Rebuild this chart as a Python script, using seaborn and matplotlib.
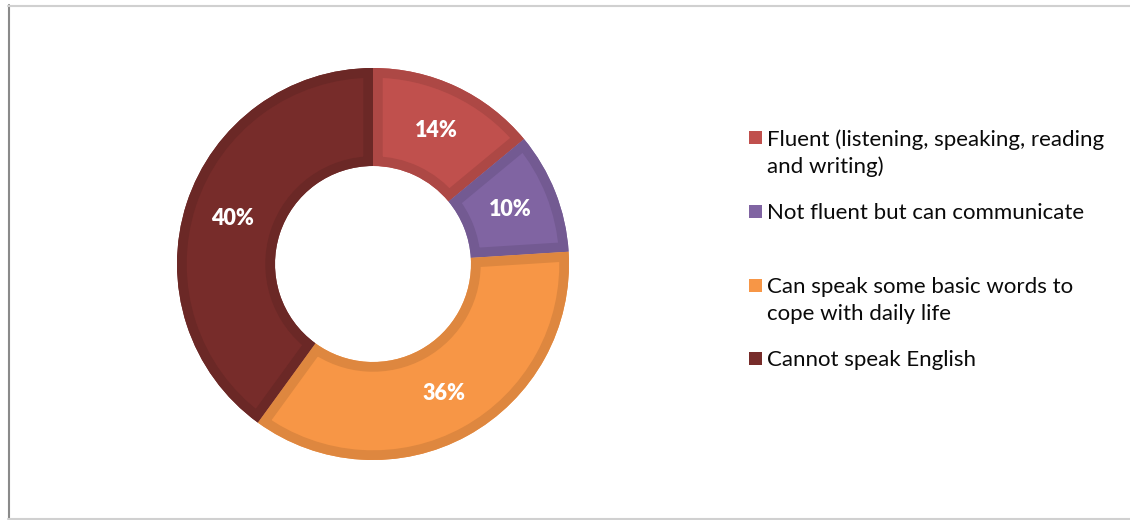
import numpy as np
import matplotlib
matplotlib.use("Agg")
import matplotlib.pyplot as plt
import matplotlib.colors as mcolors
from matplotlib.patches import Rectangle, Wedge
from matplotlib.lines import Line2D
import seaborn as sns

# Survey: English proficiency
categories = [
    "Fluent (listening, speaking, reading\nand writing)",
    "Not fluent but can communicate",
    "Can speak some basic words to\ncope with daily life",
    "Cannot speak English",
]
shares = [14, 10, 36, 40]
colors = ["#C0504D", "#8064A2", "#F79646", "#772C2A"]

sns.set_theme(style="white")
plt.rcParams["font.family"] = ["Lato", "DejaVu Sans"]

W, H = 1130, 520
fig = plt.figure(figsize=(W / 100, H / 100), dpi=100)
fig.patch.set_facecolor("white")

# donut placement (pixels)
cx, cy, R = 373, 264, 196
ax = fig.add_axes([(cx - R) / W, (H - cy - R) / H, 2 * R / W, 2 * R / H])

wedges, _ = ax.pie(
    shares,
    colors=colors,
    startangle=90,
    counterclock=False,
    radius=1.0,
    wedgeprops=dict(width=0.5, linewidth=0),
)

# darker inner border on every segment: a stroked copy clipped to the segment
for w, c in zip(wedges, colors):
    rgb = np.array(mcolors.to_rgb(c)) * 0.9
    rim = Wedge(w.center, w.r, w.theta1, w.theta2, width=w.width,
                facecolor="none", edgecolor=rgb, linewidth=14,
                joinstyle="miter")
    ax.add_patch(rim)
    clip = Wedge(w.center, w.r, w.theta1, w.theta2, width=w.width,
                 transform=ax.transData)
    rim.set_clip_path(clip)

# percentage labels in the middle of the ring
total = sum(shares)
start = 90.0
for v in shares:
    mid = np.deg2rad(start - 360 * v / total / 2)
    start -= 360 * v / total
    ax.text(0.755 * np.cos(mid), 0.755 * np.sin(mid), f"{v}%",
            ha="center", va="center", color="white",
            fontsize=15.5, fontweight="heavy")

ax.set_xlim(-1, 1)
ax.set_ylim(-1, 1)
ax.set_axis_off()

# legend entries (pixel rows of the first line of each entry)
legend_rows = [137, 211, 285, 358]
sq = 13
fs = 16
for lbl, c, y in zip(categories, colors, legend_rows):
    fig.patches.append(Rectangle((749 / W, (H - y - sq / 2) / H), sq / W, sq / H,
                                 transform=fig.transFigure, facecolor=c,
                                 edgecolor="none"))
    fig.text(767 / W, (H - y + 8) / H, lbl, ha="left", va="top",
             fontsize=fs, color="#0A0A0A", linespacing=1.42,
             transform=fig.transFigure)

# chart frame
fig.add_artist(Line2D([8.5 / W, 8.5 / W], [1 - 5 / H, 1 - 518 / H],
                      transform=fig.transFigure, color="#8A8A8A", lw=1.5))
fig.add_artist(Line2D([8 / W, 1], [1 - 5.5 / H, 1 - 5.5 / H],
                      transform=fig.transFigure, color="#D0D0D0", lw=1.5))
fig.add_artist(Line2D([8 / W, 1], [1 - 518.5 / H, 1 - 518.5 / H],
                      transform=fig.transFigure, color="#D0D0D0", lw=1.5))

fig.savefig("out.png", dpi=100, facecolor="white")
